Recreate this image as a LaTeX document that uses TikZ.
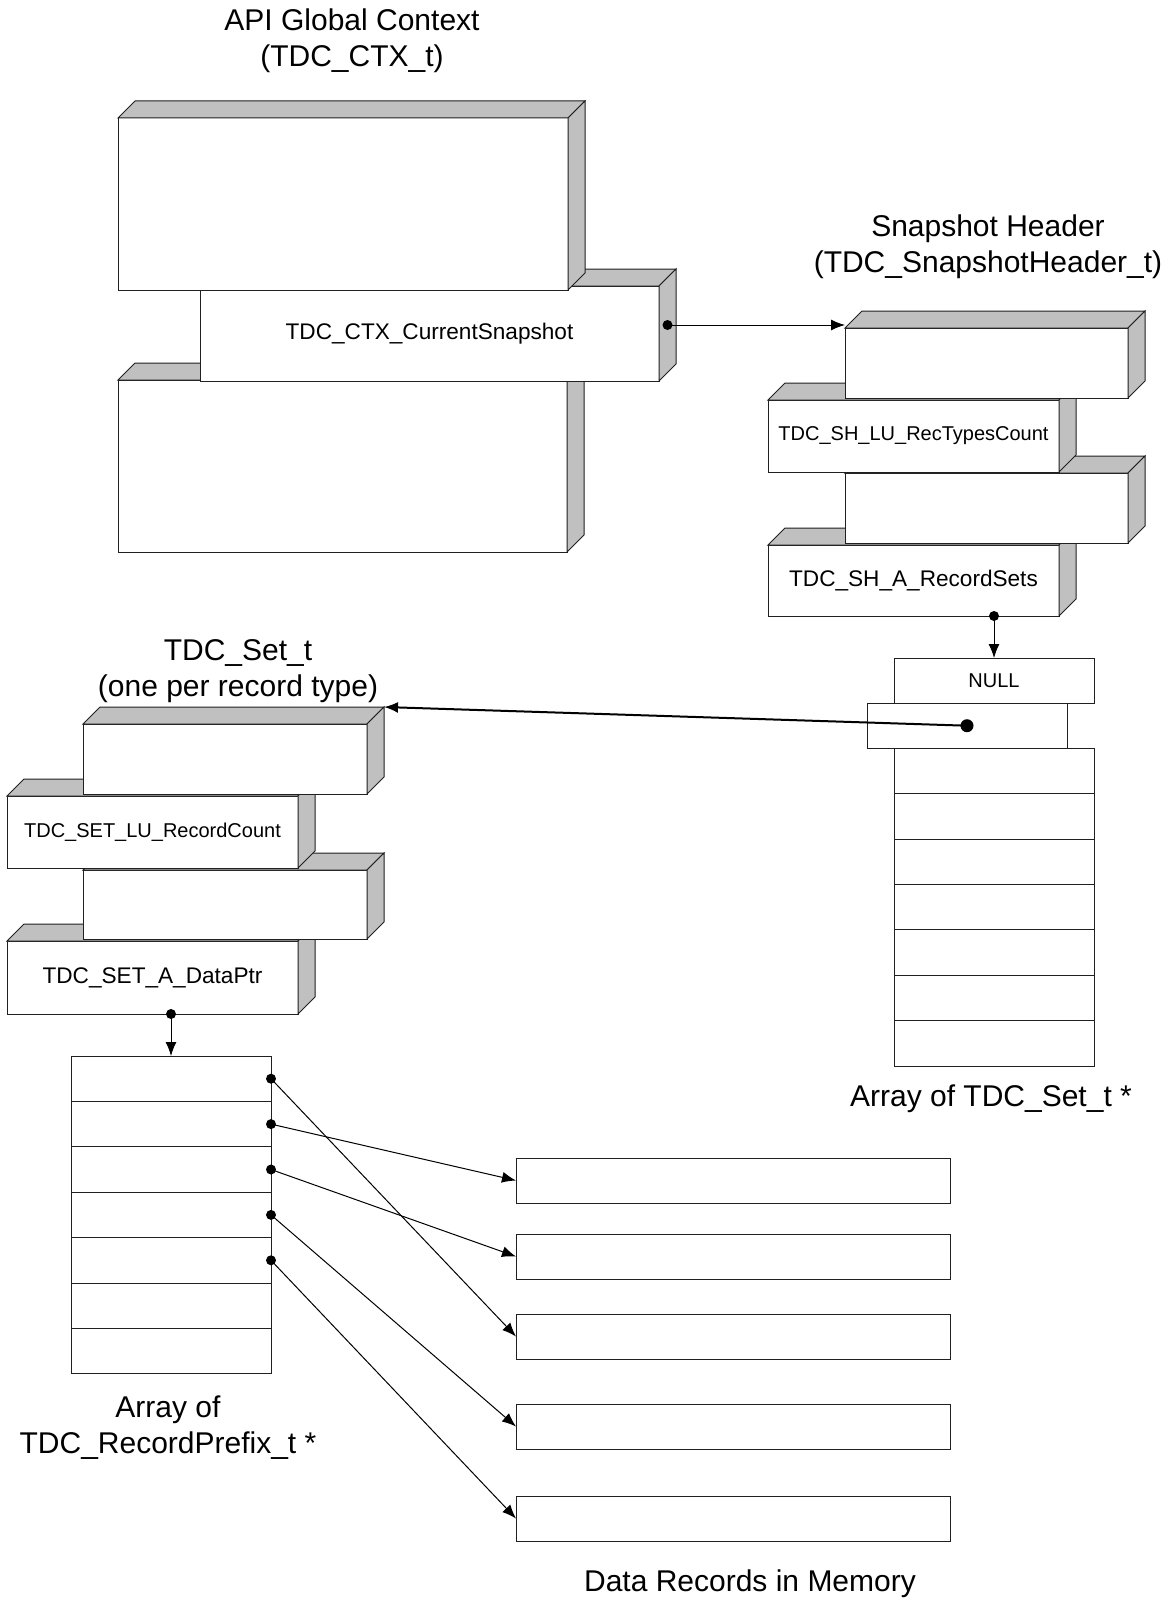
\documentclass[tikz,border=0pt]{standalone}
\usepackage{fontspec}
\setmainfont{Liberation Sans}
\usetikzlibrary{arrows.meta}

\definecolor{faceGray}{HTML}{C0C0C0}
\definecolor{lineGray}{HTML}{202020}

\newcommand{\titlefont}{\fontsize{30}{36}\selectfont}
\newcommand{\lblfont}{\fontsize{22.6}{27}\selectfont}
\newcommand{\smallfont}{\fontsize{20}{24}\selectfont}

\tikzset{
  slab/.style={draw=lineGray, fill=white, line width=1pt, inner sep=0pt, outer sep=0pt, anchor=north west, font=\lblfont},
  face/.style={draw=lineGray, fill=faceGray, line width=1pt},
  cell/.style={draw=lineGray, fill=white, line width=1pt, inner sep=0pt, outer sep=0pt, anchor=north west, minimum width=200pt, minimum height=45.4pt, font=\smallfont},
  record/.style={draw=lineGray, fill=white, line width=1pt, inner sep=0pt, outer sep=0pt, anchor=north west, minimum width=434pt, minimum height=45pt},
  title/.style={align=center, font=\titlefont},
  dot/.style={circle, fill=black, inner sep=0pt, minimum size=10pt},
  ptr/.style={-{Latex[length=14pt,width=11pt]}, line width=1pt},
}

% front face as a node, then the grey top and side faces
\newcommand{\slab}[6]{%
  \node[slab, minimum width=#4pt, minimum height=#5pt] (#1) at (#2,#3) {#6};
  \draw[face] (#1.north west) -- ++(17,-17) -- ([shift={(17,-17)}]#1.north east) -- (#1.north east) -- cycle;
  \draw[face] (#1.north east) -- ++(17,-17) -- ([shift={(17,-17)}]#1.south east) -- (#1.south east) -- cycle;
}

\begin{document}
\begin{tikzpicture}[x=1pt, y=-1pt]
\useasboundingbox (0,0) rectangle (1174,1600);

% API global context
\node[title] (ctxtitle) at (352,41) {API Global Context\\(TDC\_CTX\_t)};
\slab{ctxlow}{118}{380}{449}{172}{}
\slab{cur}{200}{286}{459}{95}{TDC\_CTX\_CurrentSnapshot}
\slab{ctxtop}{118}{118}{450}{172}{}

% snapshot header
\node[title] (shtitle) at (988,247) {Snapshot Header\\(TDC\_SnapshotHeader\_t)};
\slab{sh4}{768}{545}{291}{71}{TDC\_SH\_A\_RecordSets}
\slab{sh3}{845}{473}{283}{70}{}
\slab{sh2}{768}{400}{291}{72}{\smallfont TDC\_SH\_LU\_RecTypesCount}
\slab{sh1}{845}{328}{283}{70}{}

% one set per record type
\node[title] (settitle) at (238,671) {TDC\_Set\_t\\(one per record type)};
\slab{set4}{7}{941}{291}{73}{TDC\_SET\_A\_DataPtr}
\slab{set3}{83}{870}{284}{69}{}
\slab{set2}{7}{796}{291}{72}{\smallfont TDC\_SET\_LU\_RecordCount}
\slab{set1}{83}{724}{284}{70}{}

% array of set pointers
\node[cell] (setnull) at (894,658) {NULL};
\foreach \i in {1,...,7}
  \node[cell] (setarr\i) at (894,{748.3+45.4*(\i-1)}) {};
\node[cell] (setslot) at (867,703) {};
\node[title] (setarrlbl) at (991,1099) {Array of TDC\_Set\_t *};

% array of record prefixes
\foreach \i in {1,...,7}
  \node[cell] (pfx\i) at (71,{1056+45.4*(\i-1)}) {};
\node[title] (pfxlbl) at (168,1428) {Array of\\TDC\_RecordPrefix\_t *};

% data records
\node[record] (rec1) at (516,1158) {};
\node[record] (rec2) at (516,1234) {};
\node[record] (rec3) at (516,1314) {};
\node[record] (rec4) at (516,1404) {};
\node[record] (rec5) at (516,1496) {};
\node[title] (reclbl) at (750,1584) {Data Records in Memory};

% pointers
\node[dot] (ctxdot) at ([shift={(8.5,-8.5)}]cur.east) {};
\draw[ptr] (ctxdot.center) -- (ctxdot -| sh1.north west);
\node[dot] (shdot) at (setnull.north |- sh4.south) {};
\draw[ptr] (shdot.center) -- (setnull.north);
\node[dot, minimum size=13pt] (slotdot) at (setslot.center) {};
\draw[ptr, line width=2pt] (slotdot.center) -- ([shift={(17,-17)}]set1.north east);
\node[dot] (setdot) at (pfx1.north |- set4.south) {};
\draw[ptr] (setdot.center) -- (pfx1.north);
\foreach \p/\r in {1/3,2/1,3/2,4/4,5/5} {
  \node[dot] (pdot\p) at (pfx\p.east) {};
  \draw[ptr] (pdot\p.center) -- (rec\r.west);
}
\end{tikzpicture}
\end{document}
